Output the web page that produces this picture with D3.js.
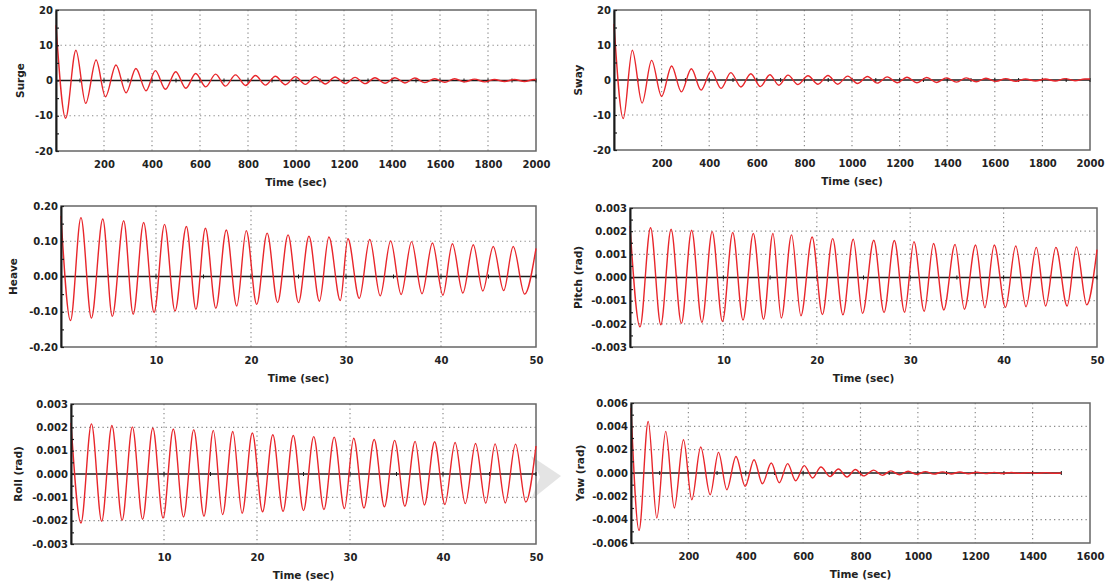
<!DOCTYPE html>
<html>
<head>
<meta charset="utf-8">
<script src="https://cdn.jsdelivr.net/npm/d3@7"></script>
<style>
  body { margin: 0; background: #fff; }
  svg text { font-family: "DejaVu Sans", Verdana, sans-serif; font-weight: bold; fill: #222; }
</style>
</head>
<body>
<svg id="chart" width="1107" height="585"></svg>
<script>
// Free-decay responses: turning points [time, value] of each motion record
const surge = [[0,15.7],[40,-10.7],[83,8.6],[124,-6.5],[167,5.8],[206,-4.6],[250,4.4],[292,-3.5],[333,3.4],[375,-2.9],[414,2.8],[456,-2.5],[499,2.5],[541,-2.2],[582,2.0],[624,-1.8],[665,1.8],[706,-1.6],[748,1.6],[790,-1.4],[831,1.4],[873,-1.3],[914,1.2],[956,-1.2],[997,1.1],[1039,-1.1],[1080,1.1],[1122,-1.0],[1163,1.0],[1205,-0.9],[1246,0.9],[1288,-0.9],[1329,0.8],[1371,-0.8],[1412,0.8],[1454,-0.7],[1495,0.7],[1537,-0.6],[1578,0.5],[1620,-0.5],[1661,0.5],[1703,-0.4],[1744,0.4],[1786,-0.4],[1827,0.3],[1869,-0.3],[1910,0.3],[1952,-0.3],[1993,0.3],[2000,0.2]];

const sway = [[0,16.0],[39,-11.0],[77,8.5],[118,-6.6],[158,5.6],[200,-4.7],[242,4.0],[283,-3.4],[325,3.2],[366,-2.9],[408,2.6],[450,-2.4],[491,2.1],[533,-2.0],[575,1.8],[615,-1.9],[655,1.5],[693,-1.5],[731,1.4],[773,-1.3],[815,1.2],[857,-1.2],[899,1.3],[940,-1.2],[982,1.1],[1023,-1.0],[1065,1.0],[1106,-0.9],[1148,0.9],[1190,-0.8],[1231,0.8],[1273,-0.8],[1314,0.7],[1356,-0.7],[1397,0.6],[1439,-0.6],[1480,0.6],[1522,-0.5],[1563,0.5],[1605,-0.4],[1646,0.4],[1688,-0.4],[1729,0.3],[1771,-0.3],[1812,0.3],[1854,-0.3],[1895,0.4],[1937,-0.2],[1978,0.3],[2000,0.3]];

const heave = [[0,0.172],[1.0,-0.125],[2.1,0.167],[3.2,-0.118],[4.4,0.163],[5.4,-0.113],[6.6,0.158],[7.6,-0.107],[8.7,0.153],[9.8,-0.102],[10.9,0.148],[12.0,-0.098],[13.2,0.142],[14.2,-0.093],[15.2,0.137],[16.3,-0.090],[17.4,0.132],[18.5,-0.084],[19.5,0.130],[20.6,-0.079],[21.7,0.123],[22.8,-0.074],[23.9,0.118],[25.0,-0.074],[26.1,0.114],[27.2,-0.070],[28.2,0.112],[29.4,-0.068],[30.2,0.107],[31.4,-0.062],[32.5,0.105],[33.6,-0.055],[34.7,0.101],[35.8,-0.051],[36.9,0.099],[38.0,-0.049],[39.1,0.095],[40.2,-0.053],[41.2,0.093],[42.3,-0.047],[43.4,0.090],[44.4,-0.041],[45.5,0.085],[46.6,-0.040],[47.6,0.085],[48.8,-0.050],[50,0.080]];

const pitch = [[0,0.00222],[1.07,-0.00213],[2.2,0.00215],[3.3,-0.00204],[4.4,0.00208],[5.5,-0.00198],[6.6,0.00204],[7.7,-0.00194],[8.8,0.00198],[9.9,-0.0019],[11.0,0.00194],[12.1,-0.00184],[13.2,0.0019],[14.3,-0.0018],[15.3,0.0019],[16.2,-0.00175],[17.3,0.00184],[18.3,-0.00165],[19.5,0.00175],[20.6,-0.0016],[21.7,0.00168],[22.8,-0.00161],[23.9,0.00165],[24.9,-0.00155],[26.1,0.00161],[27.2,-0.00151],[28.3,0.0016],[29.4,-0.0015],[30.4,0.00155],[31.5,-0.00146],[32.5,0.00147],[33.6,-0.0014],[34.8,0.00143],[35.8,-0.00137],[37.0,0.0014],[38.0,-0.0013],[39.0,0.0014],[40.2,-0.00129],[41.3,0.00136],[42.4,-0.00126],[43.5,0.0013],[44.5,-0.00123],[45.6,0.0013],[46.8,-0.00123],[47.8,0.00132],[48.9,-0.00118],[50,0.0012]];

const roll = [[0,0.00219],[1.07,-0.0021],[2.2,0.00215],[3.3,-0.00203],[4.4,0.00208],[5.5,-0.00198],[6.6,0.00202],[7.7,-0.00194],[8.8,0.00197],[9.9,-0.00189],[11.0,0.00193],[12.1,-0.00184],[13.2,0.0019],[14.3,-0.00181],[15.3,0.00187],[16.3,-0.00174],[17.4,0.00182],[18.4,-0.00168],[19.5,0.00176],[20.6,-0.00162],[21.7,0.00168],[22.8,-0.0016],[23.9,0.00165],[25.0,-0.00157],[26.1,0.0016],[27.2,-0.00152],[28.3,0.00158],[29.4,-0.00148],[30.4,0.00153],[31.5,-0.00146],[32.6,0.00148],[33.7,-0.00141],[34.8,0.00144],[35.9,-0.00138],[37.0,0.0014],[38.0,-0.00133],[39.1,0.00138],[40.2,-0.00131],[41.3,0.00135],[42.4,-0.00127],[43.5,0.00131],[44.6,-0.00125],[45.6,0.00129],[46.7,-0.00124],[47.8,0.00128],[48.9,-0.0012],[50,0.0012]];

const yaw = [[0,0.00557],[28,-0.00492],[60,0.00442],[90,-0.00386],[121,0.00357],[151,-0.003],[183,0.00285],[212,-0.00229],[243,0.00223],[276,-0.00186],[305,0.00177],[334,-0.00143],[366,0.00142],[398,-0.00114],[429,0.00114],[458,-0.00092],[489,0.00086],[517,-0.00083],[546,0.0008],[574,-0.00066],[604,0.00063],[633,-0.00043],[662,0.00051],[694,-0.0003],[723,0.00034],[753,-0.00034],[782,0.0003],[811,-0.00025],[846,0.00025],[876,-0.0002],[906,0.00018],[936,-0.00015],[966,0.00015],[996,-0.00012],[1026,0.00012],[1056,-0.0001],[1086,0.0001],[1116,-0.00008],[1146,0.00008],[1176,-0.00006],[1206,0.00006],[1236,-0.00005],[1266,0.00005],[1296,-0.00004],[1326,0.00004],[1356,-0.00003],[1386,0.00003],[1416,-0.00003],[1446,0.00003],[1476,-0.00002],[1500,0]];

// Axis tick values and their printed labels
const timeTicks2000 = [200,400,600,800,1000,1200,1400,1600,1800,2000];
const timeTicks50 = [10,20,30,40,50];
const timeTicks1600 = [200,400,600,800,1000,1200,1400,1600];
const surgeTicks = [-20,-10,0,10,20];
const surgeLabels = ["-20","-10","0","10","20"];
const heaveTicks = [-0.2,-0.1,0,0.1,0.2];
const heaveLabels = ["-0.20","-0.10","0.00","0.10","0.20"];
const angleTicks = [-0.003,-0.002,-0.001,0,0.001,0.002,0.003];
const angleLabels = ["-0.003","-0.002","-0.001","0.000","0.001","0.002","0.003"];
const yawTicks = [-0.006,-0.004,-0.002,0,0.002,0.004,0.006];
const yawLabels = ["-0.006","-0.004","-0.002","0.000","0.002","0.004","0.006"];

const panels = [
  { title: "Surge", data: surge, xMax: 2000, xTicks: timeTicks2000, xMinor: 100,
    yTicks: surgeTicks, yLabels: surgeLabels, yMinor: 5,
    box: { l: 56, r: 536, t: 10, b: 151 }, titleDx: 36 },
  { title: "Sway", data: sway, xMax: 2000, xTicks: timeTicks2000, xMinor: 100,
    yTicks: surgeTicks, yLabels: surgeLabels, yMinor: 5,
    box: { l: 614, r: 1090, t: 10, b: 150 }, titleDx: 36 },
  { title: "Heave", data: heave, xMax: 50, xTicks: timeTicks50, xMinor: 5,
    yTicks: heaveTicks, yLabels: heaveLabels, yMinor: 0.05,
    box: { l: 61, r: 536, t: 206, b: 347 }, titleDx: 48 },
  { title: "Pitch (rad)", data: pitch, xMax: 50, xTicks: timeTicks50, xMinor: 5,
    yTicks: angleTicks, yLabels: angleLabels, yMinor: 0.0005,
    box: { l: 630, r: 1097, t: 208, b: 347 }, titleDx: 52 },
  { title: "Roll (rad)", data: roll, xMax: 50, xTicks: timeTicks50, xMinor: 5,
    yTicks: angleTicks, yLabels: angleLabels, yMinor: 0.0005,
    box: { l: 71, r: 536, t: 404, b: 544 }, titleDx: 53 },
  { title: "Yaw (rad)", data: yaw, xMax: 1600, xTicks: timeTicks1600, xMinor: 100,
    yTicks: yawTicks, yLabels: yawLabels, yMinor: 0.001,
    box: { l: 631, r: 1090, t: 403, b: 543 }, titleDx: 51 }
];

const svg = d3.select("#chart");

// faint grey arrow mark between the lower panels
svg.append("path")
  .attr("d", "M531,456 L561,476 L531,500 L540,477 Z")
  .attr("fill", "#e4e4e4");

panels.forEach(p => {
  const { l, r, t, b } = p.box;
  const yMin = p.yTicks[0], yMax = p.yTicks[p.yTicks.length - 1];
  const x = d3.scaleLinear().domain([0, p.xMax]).range([l, r]);
  const y = d3.scaleLinear().domain([yMin, yMax]).range([b, t]);
  const g = svg.append("g");

  // dotted grid
  g.selectAll("line.hgrid")
    .data(p.yTicks.filter(v => v !== 0 && v !== yMin && v !== yMax))
    .join("line")
    .attr("x1", l).attr("x2", r)
    .attr("y1", d => y(d)).attr("y2", d => y(d))
    .attr("stroke", "#8a8a8a").attr("stroke-width", 1.2)
    .attr("stroke-dasharray", "1.3,3.2");
  g.selectAll("line.vgrid")
    .data(p.xTicks.filter(v => v !== p.xMax))
    .join("line")
    .attr("x1", d => x(d)).attr("x2", d => x(d))
    .attr("y1", t).attr("y2", b)
    .attr("stroke", "#8a8a8a").attr("stroke-width", 1.2)
    .attr("stroke-dasharray", "1.3,3.2");

  // frame
  g.append("rect")
    .attr("x", l).attr("y", t).attr("width", r - l).attr("height", b - t)
    .attr("fill", "none").attr("stroke", "#666").attr("stroke-width", 1.5);

  // zero line across the record, with small ticks
  const tEnd = p.data[p.data.length - 1][0];
  g.append("line")
    .attr("x1", x(0)).attr("x2", x(tEnd))
    .attr("y1", y(0)).attr("y2", y(0))
    .attr("stroke", "#1a1a1a").attr("stroke-width", 1.5);
  const xm = d3.range(p.xMinor, tEnd + 1e-9, p.xMinor);
  g.selectAll("line.zt").data(xm).join("line")
    .attr("x1", d => x(d)).attr("x2", d => x(d))
    .attr("y1", y(0) - 2).attr("y2", y(0) + 2)
    .attr("stroke", "#1a1a1a").attr("stroke-width", 1);

  // response curve
  const line = d3.line()
    .x(d => x(d[0])).y(d => y(d[1]))
    .curve(d3.curveMonotoneX);
  g.append("path")
    .datum(p.data)
    .attr("d", line)
    .attr("fill", "none")
    .attr("stroke", "#e8262b")
    .attr("stroke-width", 1.4)
    .attr("stroke-linejoin", "round");

  // left axis with inner ticks
  const ym = d3.range(yMin, yMax + p.yMinor / 2, p.yMinor);
  const minorAxis = d3.axisLeft(y).tickValues(ym).tickSize(-3).tickFormat("");
  g.append("g").attr("transform", `translate(${l},0)`).call(minorAxis)
    .call(s => s.select(".domain").remove())
    .call(s => s.selectAll("line").attr("stroke", "#222").attr("stroke-width", 1.2));
  const yAxis = d3.axisLeft(y).tickValues(p.yTicks)
    .tickFormat((d, i) => p.yLabels[i]).tickSize(0).tickPadding(3);
  g.append("g").attr("transform", `translate(${l},0)`).call(yAxis)
    .call(s => s.select(".domain").attr("stroke", "#1a1a1a").attr("stroke-width", 2))
    .call(s => s.selectAll("text").attr("font-size", 10)
      .attr("font-family", null).attr("fill", "#222"));

  // bottom tick labels
  const xAxis = d3.axisBottom(x).tickValues(p.xTicks)
    .tickFormat(d3.format("d")).tickSize(0).tickPadding(10);
  g.append("g").attr("transform", `translate(0,${b})`).call(xAxis)
    .call(s => s.select(".domain").remove())
    .call(s => s.selectAll("text").attr("font-size", 10)
      .attr("font-family", null).attr("fill", "#222"));

  // axis titles
  g.append("text")
    .attr("x", (l + r) / 2).attr("y", b + 35)
    .attr("text-anchor", "middle").attr("font-size", 10.5)
    .text("Time (sec)");
  g.append("text")
    .attr("transform", `translate(${l - p.titleDx},${(t + b) / 2}) rotate(-90)`)
    .attr("text-anchor", "middle").attr("dominant-baseline", "central")
    .attr("font-size", 10.5)
    .text(p.title);
});
</script>
</body>
</html>
